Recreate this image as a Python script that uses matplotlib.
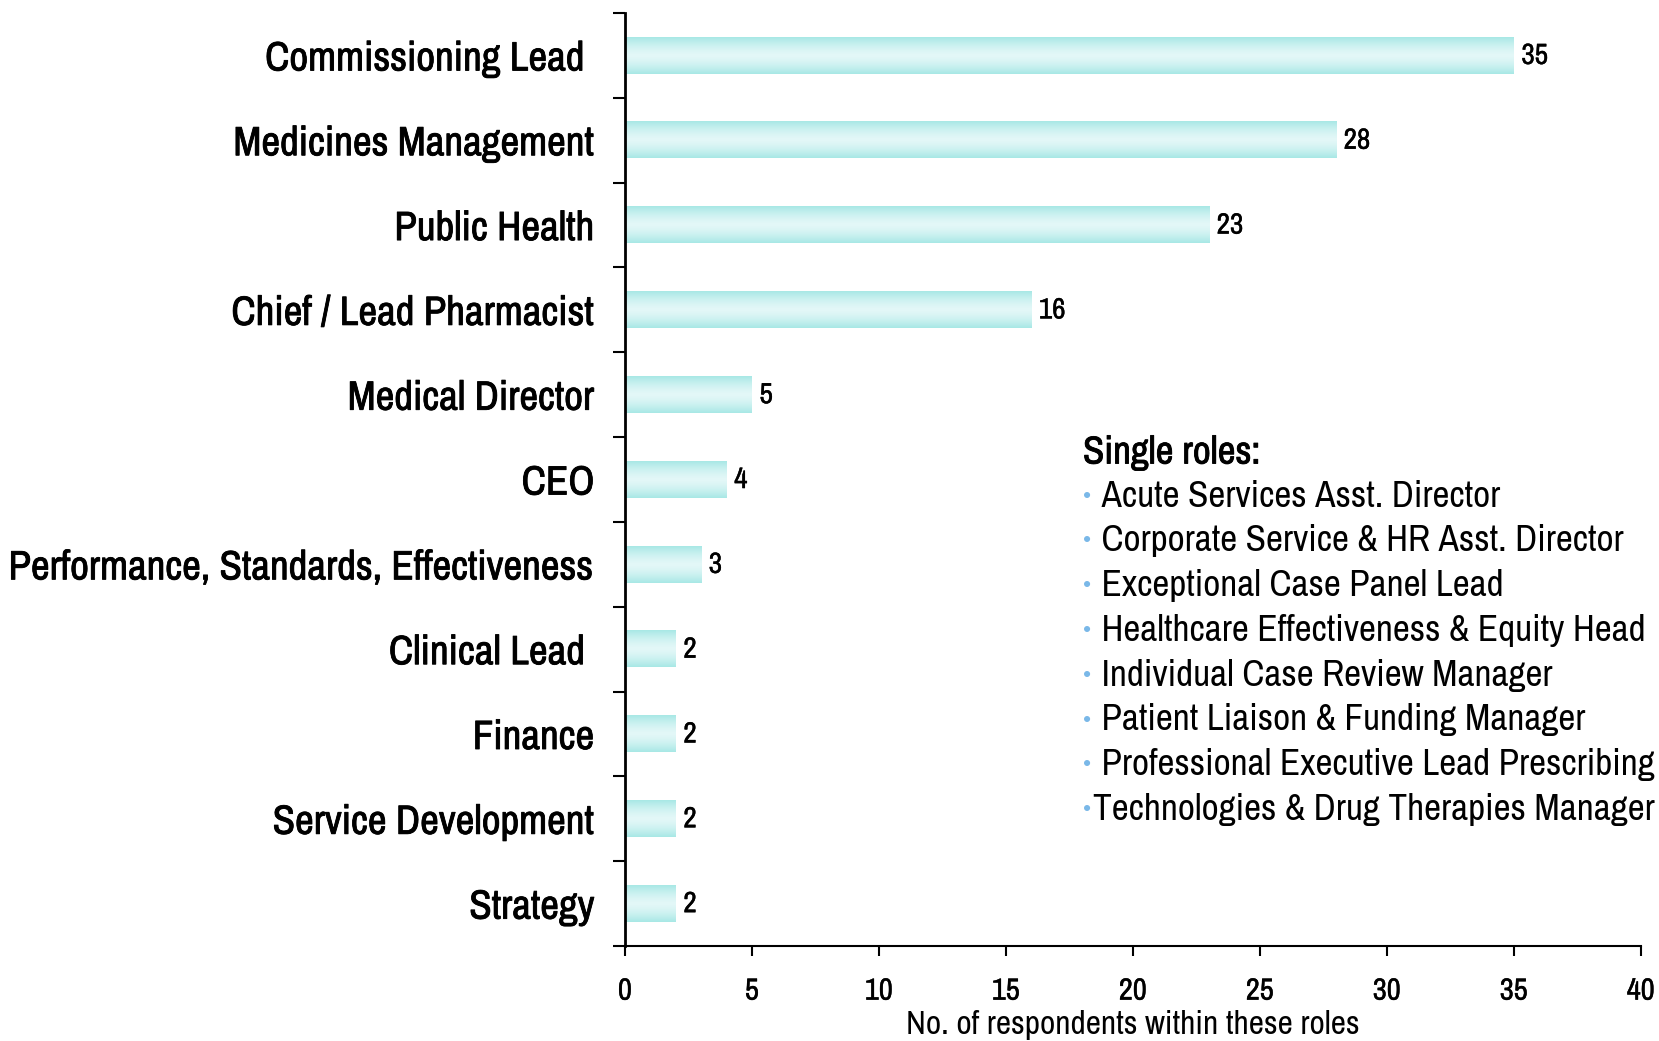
import numpy as np
import matplotlib.pyplot as plt
import matplotlib.patheffects as pe

plt.rcParams['font.family'] = ['Archivo Narrow', 'Liberation Sans Narrow', 'DejaVu Sans']
plt.rcParams['font.stretch'] = 'condensed'

roles = ['Commissioning Lead ', 'Medicines Management', 'Public Health',
         'Chief / Lead Pharmacist', 'Medical Director', 'CEO',
         'Performance, Standards, Effectiveness', 'Clinical Lead ', 'Finance',
         'Service Development', 'Strategy']
counts = [35, 28, 23, 16, 5, 4, 3, 2, 2, 2, 2]
xticks = [0, 5, 10, 15, 20, 25, 30, 35, 40]

single_roles = [' Acute Services Asst. Director',
                ' Corporate Service & HR Asst. Director',
                ' Exceptional Case Panel Lead',
                ' Healthcare Effectiveness & Equity Head',
                ' Individual Case Review Manager',
                ' Patient Liaison & Funding Manager',
                ' Professional Executive Lead Prescribing',
                'Technologies & Drug Therapies Manager']

# fake a medium weight with a thin stroke of the same colour
thick = [pe.withStroke(linewidth=0.6, foreground='black')]
thin = [pe.withStroke(linewidth=0.3, foreground='black')]

fig = plt.figure(figsize=(16.59, 10.41), dpi=100)
ax = fig.add_axes([0.3767, 0.0912, 0.6123, 0.8963])

h = 0.43
edge = np.array([0.66, 0.91, 0.90])
mid = np.array([0.89, 0.97, 0.97])
t = np.linspace(-1, 1, 64)
w = np.abs(t) ** 1.5
grad = (mid[None, :] * (1 - w[:, None]) + edge[None, :] * w[:, None])[:, None, :]

for i, v in enumerate(counts):
    ax.imshow(grad, extent=(0, v, i + h / 2, i - h / 2), aspect='auto',
              interpolation='bilinear', zorder=2)
    ax.text(v + 0.3, i, str(v), va='center', ha='left', fontsize=21,
            path_effects=thin)

ax.set_xlim(0, 40)
ax.set_ylim(len(roles) - 0.5, -0.5)

for s in ['top', 'right']:
    ax.spines[s].set_visible(False)
ax.spines['left'].set_linewidth(2)
ax.spines['bottom'].set_linewidth(1.5)

ax.set_yticks(np.arange(-0.5, len(roles), 1))
ax.set_yticklabels([])
ax.set_yticks(np.arange(len(roles)), minor=True)
ax.set_yticklabels(roles, minor=True, fontsize=29.5)
for lab in ax.get_yticklabels(minor=True):
    lab.set_path_effects(thick)
ax.tick_params(axis='y', which='major', length=9, width=1.5, direction='out')
ax.tick_params(axis='y', which='minor', length=0, pad=22)

ax.set_xticks(xticks)
ax.set_xticklabels([str(x) for x in xticks], fontsize=22)
for lab in ax.get_xticklabels():
    lab.set_path_effects(thin)
ax.tick_params(axis='x', length=7, width=1.5, pad=15)
ax.set_xlabel('No. of respondents within these roles', fontsize=24, labelpad=4)

fig.text(1083 / 1659, 1 - 453 / 1041, 'Single roles:', fontsize=28,
         va='center', ha='left', path_effects=thick)
for j, r in enumerate(single_roles):
    y = 1 - (496 + j * 44.8) / 1041
    fig.text(1083 / 1659, y, '\u2022', color='#7ab8e8', fontsize=20,
             va='center', ha='left')
    fig.text(1093 / 1659, y, r, fontsize=26.8, va='center', ha='left')

fig.savefig('out.png', dpi=100, facecolor='white')
